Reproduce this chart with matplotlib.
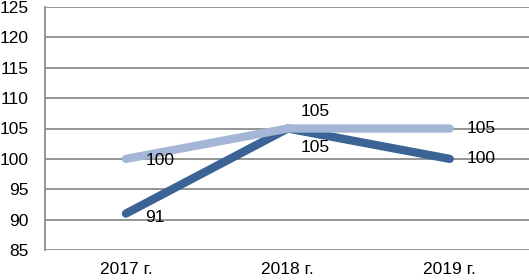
import numpy as np
import matplotlib.pyplot as plt

plt.rcParams['font.family'] = ['Liberation Sans', 'DejaVu Sans']

years = ["2017 г.", "2018 г.", "2019 г."]
series_dark = [91, 105, 100]
series_light = [100, 105, 105]

fig = plt.figure(figsize=(5.29, 2.80), dpi=100)
ax = fig.add_axes([45 / 529, 30 / 280, 484 / 529, 243 / 280])

x = np.arange(len(years)) + 0.5
ax.plot(x, series_dark, color='#3b6395', lw=6, solid_capstyle='round', solid_joinstyle='round', zorder=3)
ax.plot(x, series_light, color='#a3b6d6', lw=6, solid_capstyle='round', solid_joinstyle='round', zorder=4)

fs = 12.5
# light series labels
ax.annotate(str(series_light[0]), (x[0], series_light[0]), xytext=(14, -1), textcoords='offset points',
            ha='left', va='center', fontsize=fs, zorder=5)
ax.annotate(str(series_light[1]), (x[1], series_light[1]), xytext=(20, 12), textcoords='offset points',
            ha='center', va='center', fontsize=fs, zorder=5)
ax.annotate(str(series_light[2]), (x[2], series_light[2]), xytext=(12, 0), textcoords='offset points',
            ha='left', va='center', fontsize=fs, zorder=5)
# dark series labels
ax.annotate(str(series_dark[0]), (x[0], series_dark[0]), xytext=(14, -3), textcoords='offset points',
            ha='left', va='center', fontsize=fs, zorder=5)
ax.annotate(str(series_dark[1]), (x[1], series_dark[1]), xytext=(20, -14), textcoords='offset points',
            ha='center', va='center', fontsize=fs, zorder=5)
ax.annotate(str(series_dark[2]), (x[2], series_dark[2]), xytext=(12, 0), textcoords='offset points',
            ha='left', va='center', fontsize=fs, zorder=5)

ax.set_xlim(0, 2.99)
ax.set_ylim(85, 125)
ax.set_yticks(range(85, 126, 5))
ax.set_xticks(x)
ax.set_xticklabels(years)
ax.tick_params(axis='both', length=0, labelsize=fs)
ax.tick_params(axis='y', pad=12)
ax.tick_params(axis='x', pad=9)
ax.grid(axis='y', color='#8c8c8c', lw=1.3)
ax.set_axisbelow(True)
for s in ['top', 'right', 'bottom']:
    ax.spines[s].set_visible(False)
ax.spines['left'].set_color('#8c8c8c')
ax.spines['left'].set_linewidth(1.3)

fig.savefig('out.png', dpi=100)
